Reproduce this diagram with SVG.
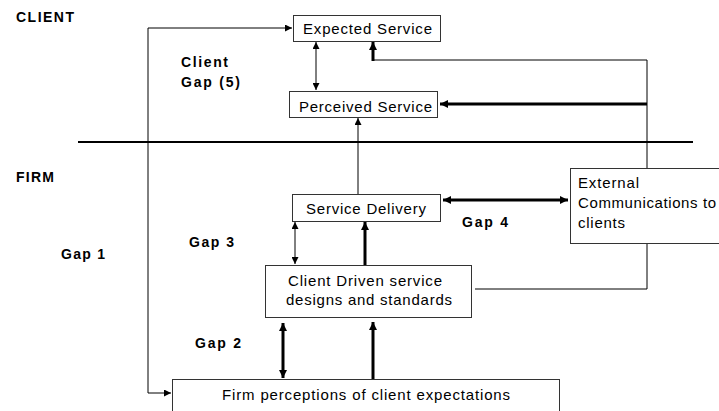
<svg xmlns="http://www.w3.org/2000/svg" width="719" height="411" viewBox="0 0 719 411">
<style>
.box{fill:#fff;stroke:#333;stroke-width:1}
.t{font-family:"Liberation Sans",Arial,sans-serif;font-size:15px;fill:#000}
.b{font-family:"Liberation Sans",Arial,sans-serif;font-size:14px;font-weight:bold;fill:#000}
.thin{fill:none;stroke:#000;stroke-width:1}
.thick{fill:none;stroke:#000;stroke-width:3}
</style>
<defs>
<marker id="ah" viewBox="0 0 10 10" refX="10" refY="5" markerWidth="8" markerHeight="7" markerUnits="userSpaceOnUse" orient="auto-start-reverse"><path d="M0,0 L10,5 L0,10 z" fill="#000"/></marker>
<marker id="ahk" viewBox="0 0 10 10" refX="10" refY="5" markerWidth="9" markerHeight="8" markerUnits="userSpaceOnUse" orient="auto-start-reverse"><path d="M0,0 L10,5 L0,10 z" fill="#000"/></marker>
</defs>
<rect width="719" height="411" fill="#fff"/>
<g id="labels">
<text class="b" x="16" y="22" textLength="58">CLIENT</text>
<text class="b" x="181" y="67" textLength="47">Client</text>
<text class="b" x="181" y="87" textLength="59">Gap (5)</text>
<text class="b" x="16" y="182" textLength="38">FIRM</text>
<text class="b" x="61" y="259" textLength="44">Gap 1</text>
<text class="b" x="189" y="247" textLength="45">Gap 3</text>
<text class="b" x="462" y="227" textLength="46">Gap 4</text>
<text class="b" x="195" y="348" textLength="46">Gap 2</text>
</g>
<line x1="78" y1="142" x2="693" y2="142" stroke="#000" stroke-width="2"/>
<g id="connectors">
<path class="thin" d="M148,142 V28 H292" marker-end="url(#ah)"/>
<path class="thin" d="M148,142 V393 H171" marker-end="url(#ah)"/>
<line class="thin" x1="316" y1="42" x2="316" y2="90" marker-start="url(#ah)" marker-end="url(#ah)"/>
<path class="thin" d="M475,289 H647 V60 H373"/>
<line class="thick" x1="373" y1="61" x2="373" y2="42" marker-end="url(#ahk)"/>
<line class="thick" x1="647" y1="104" x2="440" y2="104" marker-end="url(#ahk)"/>
<line class="thin" x1="358" y1="194" x2="358" y2="118" marker-end="url(#ah)"/>
<line class="thick" x1="443" y1="200" x2="568" y2="200" marker-start="url(#ahk)" marker-end="url(#ahk)"/>
<line class="thin" x1="295" y1="222" x2="295" y2="264" marker-start="url(#ah)" marker-end="url(#ah)"/>
<line class="thick" x1="365" y1="265" x2="365" y2="222" marker-end="url(#ahk)"/>
<line class="thick" x1="283" y1="323" x2="283" y2="378" marker-start="url(#ahk)" marker-end="url(#ahk)"/>
<line class="thick" x1="373" y1="379" x2="373" y2="322" marker-end="url(#ahk)"/>
</g>
<g id="expected">
<rect class="box" x="293.5" y="15.5" width="147" height="26"/>
<text class="t" x="303" y="34" textLength="129">Expected Service</text>
</g>
<g id="perceived">
<rect class="box" x="289.5" y="91.5" width="148" height="26"/>
<text class="t" x="299" y="112" textLength="133">Perceived Service</text>
</g>
<g id="delivery">
<rect class="box" x="292.5" y="194.5" width="148" height="27"/>
<text class="t" x="306" y="214" textLength="120">Service Delivery</text>
</g>
<g id="external">
<rect class="box" x="570.5" y="168.5" width="160" height="75"/>
<text class="t" x="578" y="188" textLength="61">External</text>
<text class="t" x="578" y="208" textLength="138">Communications to</text>
<text class="t" x="578" y="228" textLength="47">clients</text>
</g>
<g id="design">
<rect class="box" x="265.5" y="265.5" width="206" height="52"/>
<text class="t" x="288" y="286" textLength="154">Client Driven service</text>
<text class="t" x="286" y="305" textLength="166">designs and standards</text>
</g>
<g id="firm">
<rect class="box" x="172.5" y="379.5" width="387" height="40"/>
<text class="t" x="222" y="400" textLength="288">Firm perceptions of client expectations</text>
</g>
</svg>
